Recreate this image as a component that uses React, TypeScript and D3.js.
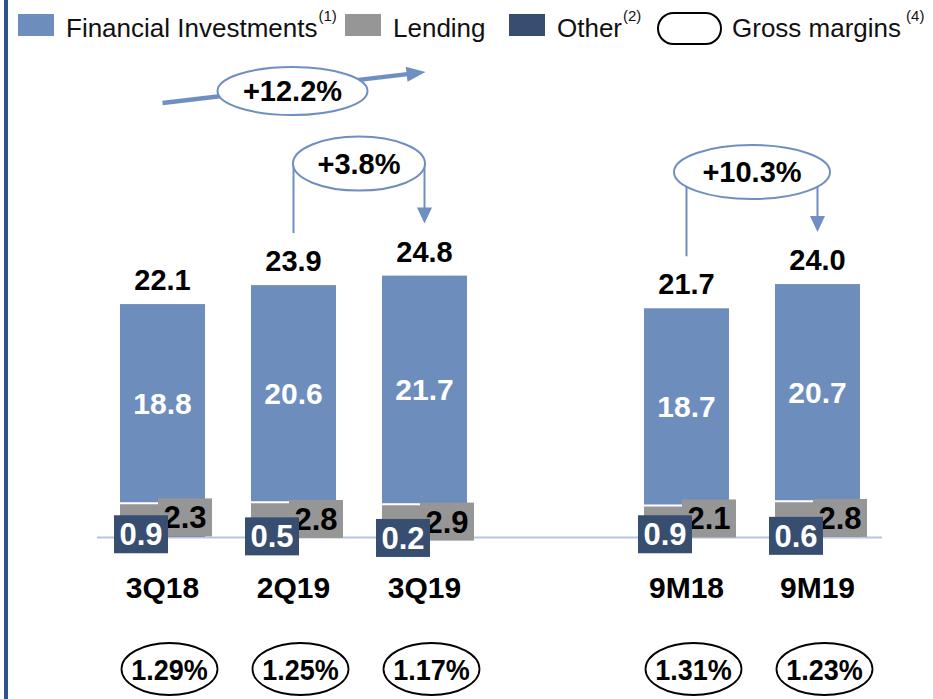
import * as d3 from "d3";

// chart values
const categories = ["3Q18", "2Q19", "3Q19", "9M18", "9M19"];
const slots = ["3Q18", "2Q19", "3Q19", "gap", "9M18", "9M19"];
const financialInvestments = [18.8, 20.6, 21.7, 18.7, 20.7];
const lending = [2.3, 2.8, 2.9, 2.1, 2.8];
const other = [0.9, 0.5, 0.2, 0.9, 0.6];
const totals = [22.1, 23.9, 24.8, 21.7, 24.0];
const grossMargins = ["1.29%", "1.25%", "1.17%", "1.31%", "1.23%"];

// growth call-outs
const growthLabels = ["+3.8%", "+10.3%"];
const growthFrom = ["2Q19", "9M18"];
const growthTo = ["3Q19", "9M19"];
const trendLabel = "+12.2%";
const trendFrom = "3Q18";
const trendTo = "3Q19";

const legendLabels = ["Financial Investments", "Lending", "Other", "Gross margins"];
const legendNotes = ["(1)", "", "(2)", "(4)"];

const COLORS = { fi: "#6D8EBD", lending: "#969696", other: "#374E70" };
const ARROW = "#6F8FC2";
const FONT = "'Liberation Sans', Arial, sans-serif";

const W = 933;
const H = 699;

const rows = categories.map((c, i) => ({
  cat: c,
  other: other[i],
  lending: lending[i],
  fi: financialInvestments[i],
  total: totals[i],
}));

export default function App() {
  const x = d3.scaleBand(slots, [54.5, 925.5]).paddingInner(0.351).paddingOuter(0.5);
  const y = d3.scaleLinear([0, 25], [537, 537 - 263.5]);
  const cx = (c: string) => (x(c) ?? 0) + x.bandwidth() / 2;

  const stack = d3.stack<any>().keys(["other", "lending", "fi"]);
  const series = stack(rows);
  const sOther = series[0];
  const sLend = series[1];
  const sFi = series[2];

  const arrowHead = (tx: number, ty: number, angle: number, len: number, half: number) => {
    const bx = tx - len * Math.cos(angle);
    const by = ty - len * Math.sin(angle);
    const px = -Math.sin(angle) * half;
    const py = Math.cos(angle) * half;
    return `M${tx},${ty}L${bx + px},${by + py}L${bx - px},${by - py}Z`;
  };

  // trend arrow across the quarters
  const tx0 = cx(trendFrom);
  const ty0 = 103;
  const tx1 = cx(trendTo) + 1;
  const ty1 = 72;
  const tAng = Math.atan2(ty1 - ty0, tx1 - tx0);
  const tMidX = cx("2Q19") - 1;

  const legendSquares = [18, 345, 509];
  const legendText = [66, 393, 557, 732];
  const fmt = d3.format(".1f");

  return (
    <svg width={W} height={H} style={{ position: "absolute", left: 0, top: 0, background: "#fff" }} fontFamily={FONT}>
      <rect x={4} y={0} width={4} height={H} fill="#2A5592" />

      {/* legend */}
      {legendSquares.map((lx, i) => (
        <rect key={i} x={lx} y={14} width={36} height={22} fill={[COLORS.fi, COLORS.lending, COLORS.other][i]} />
      ))}
      <rect x={658} y={13} width={63} height={31} rx={15.5} fill="white" stroke="black" strokeWidth={2} />
      {legendLabels.map((t, i) => (
        <text key={t} x={legendText[i]} y={37} fontSize={26} fill="#111">
          {t}
          {legendNotes[i] && (
            <tspan fontSize={15} dx={i === 3 ? 5 : 1} dy={-16}>
              {legendNotes[i]}
            </tspan>
          )}
        </text>
      ))}

      {/* trend arrow */}
      <line x1={tx0} y1={ty0} x2={tx1 - 16 * Math.cos(tAng)} y2={ty1 - 16 * Math.sin(tAng)} stroke={ARROW} strokeWidth={4.5} />
      <path d={arrowHead(tx1, ty1, tAng, 19, 7.5)} fill={ARROW} />
      <ellipse cx={tMidX} cy={91} rx={75} ry={24} fill="white" stroke={ARROW} strokeWidth={2} />
      <text x={tMidX} y={101} textAnchor="middle" fontSize={29} fontWeight="bold">
        {trendLabel}
      </text>

      {/* growth brackets */}
      {growthLabels.map((g, i) => {
        const iFrom = categories.indexOf(growthFrom[i]);
        const iTo = categories.indexOf(growthTo[i]);
        const xa = cx(growthFrom[i]);
        const xb = cx(growthTo[i]);
        const ey = y(totals[iTo]) - 112;
        const endA = y(totals[iFrom]) - 52;
        const tipB = y(totals[iTo]) - 52;
        const rx = i === 0 ? 66 : 78;
        return (
          <g key={g}>
            <line x1={xa} y1={ey} x2={xa} y2={endA} stroke={ARROW} strokeWidth={2} />
            <line x1={xb} y1={ey} x2={xb} y2={tipB - 14} stroke={ARROW} strokeWidth={2} />
            <path d={arrowHead(xb, tipB, Math.PI / 2, 16, 7.5)} fill={ARROW} />
            <ellipse cx={(xa + xb) / 2} cy={ey} rx={rx} ry={27} fill="white" stroke={ARROW} strokeWidth={2} />
            <text x={(xa + xb) / 2} y={ey + 10} textAnchor="middle" fontSize={29} fontWeight="bold">
              {g}
            </text>
          </g>
        );
      })}

      {/* bars */}
      {rows.map((r, i) => {
        const bx = x(r.cat) ?? 0;
        const bw = x.bandwidth();
        return (
          <g key={r.cat}>
            <rect x={bx} y={y(sOther[i][1])} width={bw} height={y(sOther[i][0]) - y(sOther[i][1])} fill={COLORS.other} />
            <rect x={bx} y={y(sLend[i][1])} width={bw} height={y(sLend[i][0]) - y(sLend[i][1])} fill={COLORS.lending} />
            <rect x={bx} y={y(r.total)} width={bw} height={y(sFi[i][0]) - y(r.total)} fill={COLORS.fi} />
            <line x1={bx} x2={bx + bw} y1={y(sFi[i][0])} y2={y(sFi[i][0])} stroke="white" strokeWidth={2} />
          </g>
        );
      })}

      <line x1={97} x2={882} y1={y(0) + 0.5} y2={y(0) + 0.5} stroke="#B7C6E0" strokeWidth={2} />

      {/* value labels */}
      {rows.map((r, i) => {
        const c = cx(r.cat);
        const fiMid = (y(r.total) + y(sFi[i][0])) / 2;
        const lendMid = (y(sLend[i][0]) + y(sLend[i][1])) / 2 + 2;
        const othMid = (y(sOther[i][0]) + y(sOther[i][1])) / 2 + 2;
        return (
          <g key={r.cat} fontWeight="bold">
            <text x={c} y={y(r.total) - 14} textAnchor="middle" fontSize={29} fill="#000">
              {fmt(r.total)}
            </text>
            <text x={c} y={fiMid + 10} textAnchor="middle" fontSize={30} fill="white">
              {fmt(r.fi)}
            </text>
            <rect x={c + 22.5 - 27} y={lendMid - 19} width={54} height={38} fill={COLORS.lending} />
            <text x={c + 22.5} y={lendMid + 11} textAnchor="middle" fontSize={31} fill="#000">
              {fmt(r.lending)}
            </text>
            <rect x={c - 21.5 - 27} y={othMid - 19} width={54} height={38} fill={COLORS.other} />
            <text x={c - 21.5} y={othMid + 11} textAnchor="middle" fontSize={31} fill="white">
              {fmt(r.other)}
            </text>
            <text x={c} y={598} textAnchor="middle" fontSize={30} fill="#000">
              {r.cat}
            </text>
          </g>
        );
      })}

      {/* gross margins */}
      {categories.map((c, i) => (
        <g key={c} transform={`translate(${cx(c) + 7},669)`}>
          <ellipse cx={0} cy={0} rx={48} ry={26} fill="white" stroke="black" strokeWidth={1.8} />
          <text transform="scale(0.9,1)" x={0} y={11} textAnchor="middle" fontSize={30} fontWeight="bold">
            {grossMargins[i]}
          </text>
        </g>
      ))}
    </svg>
  );
}
